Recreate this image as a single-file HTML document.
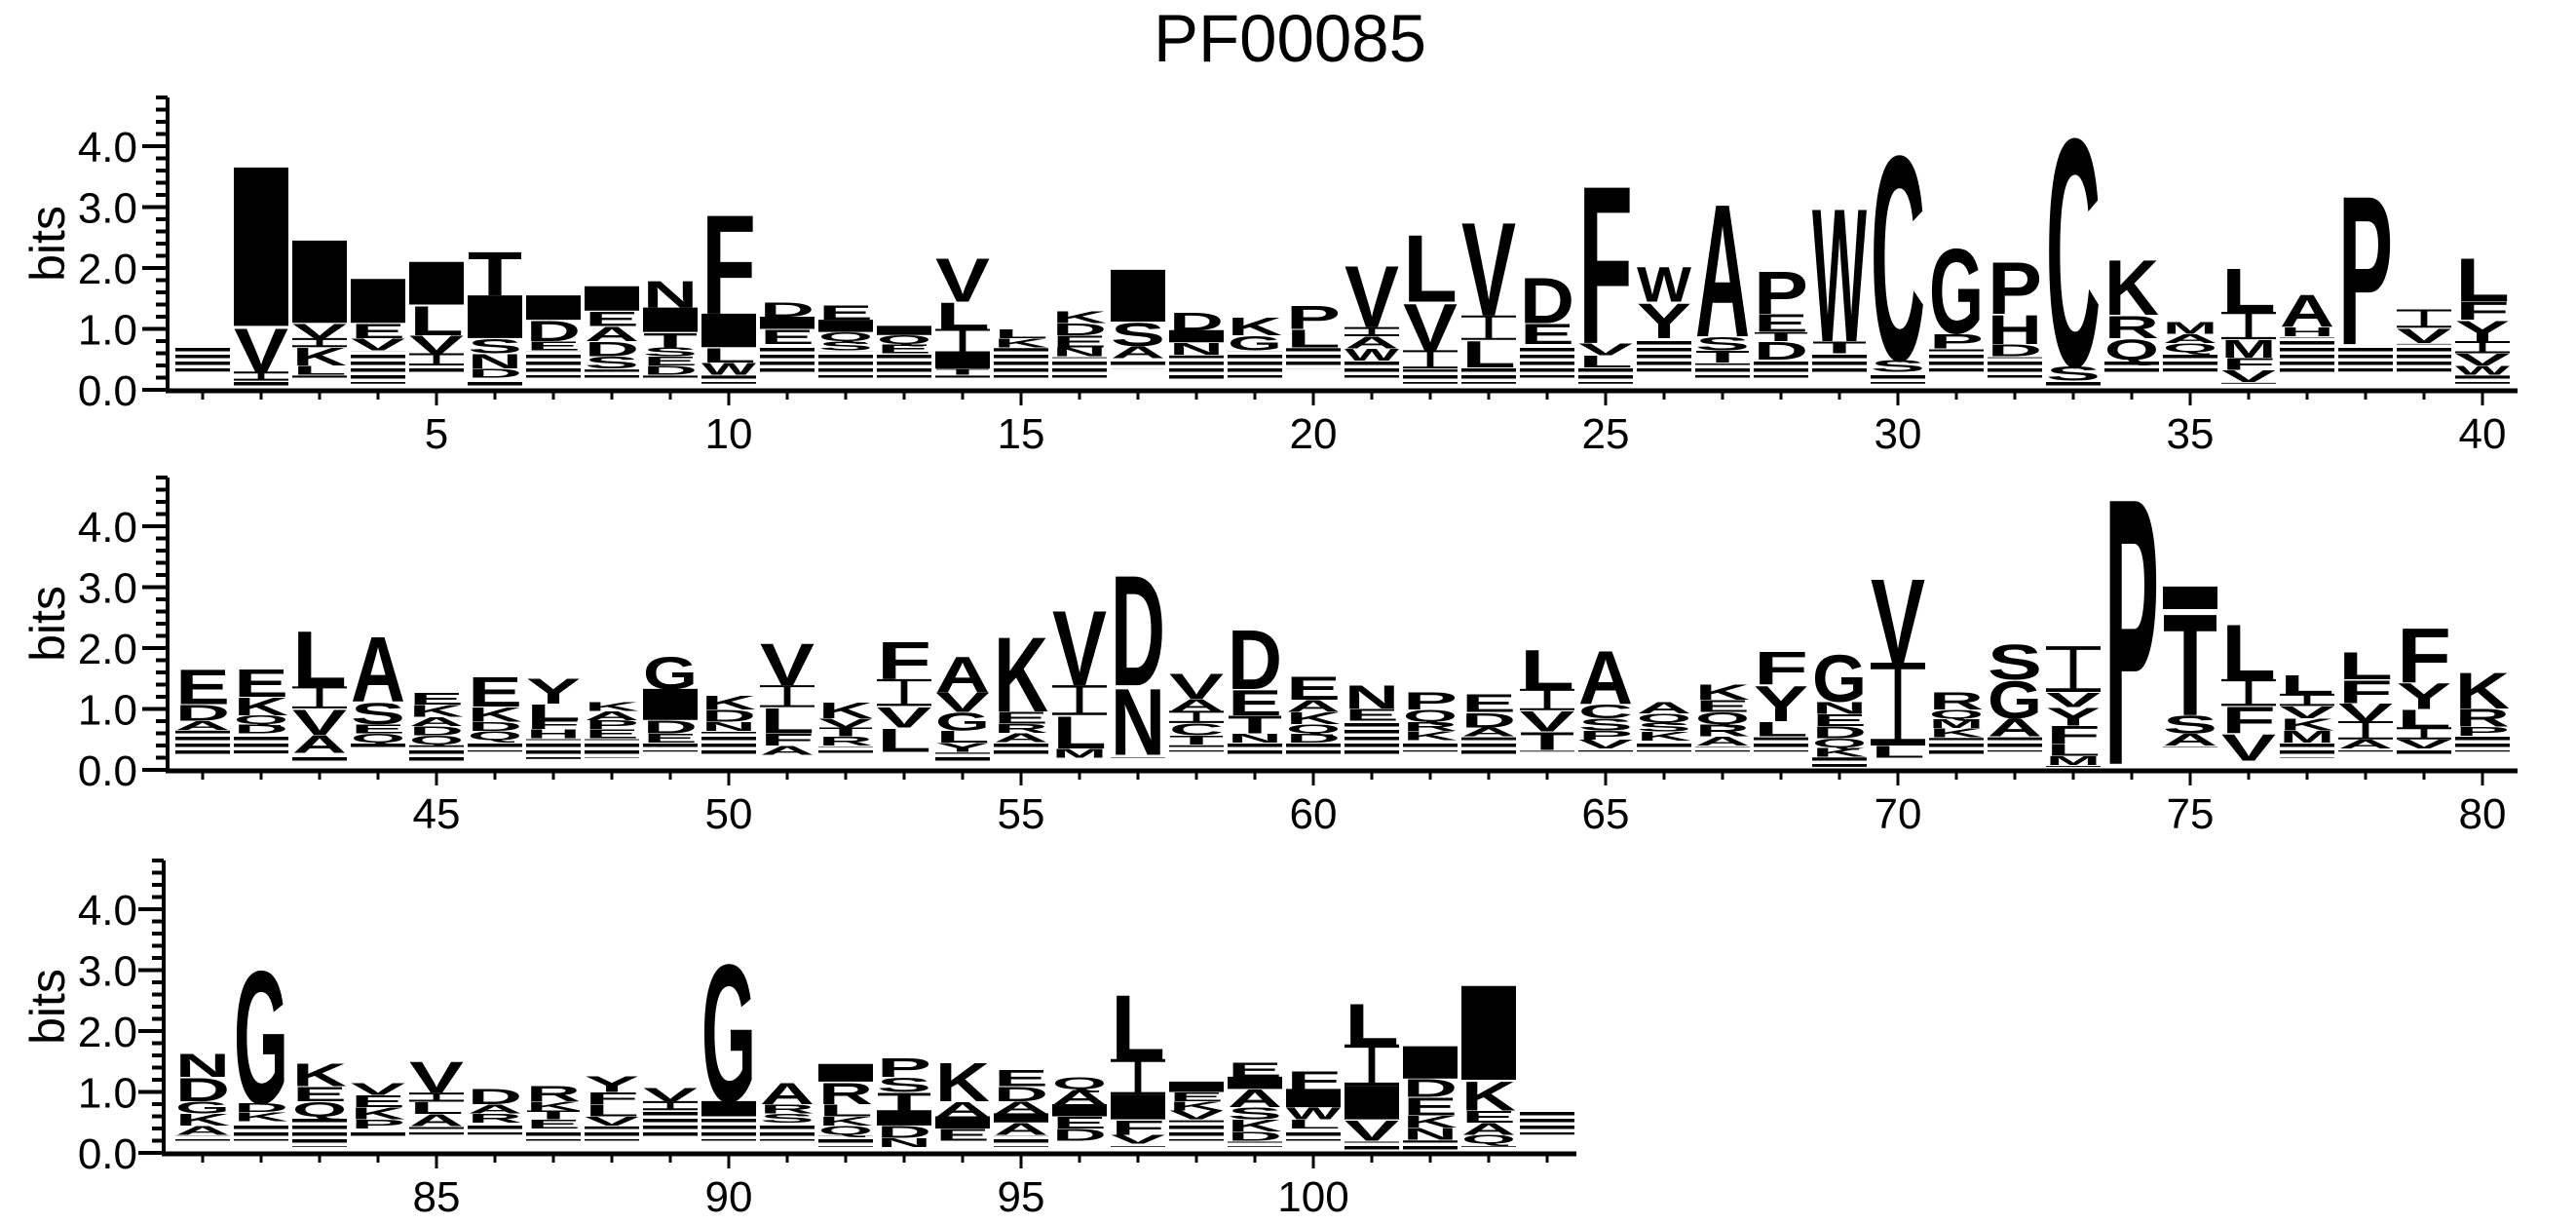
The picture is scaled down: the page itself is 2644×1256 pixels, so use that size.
<!DOCTYPE html>
<html><head><meta charset="utf-8"><style>
html,body{margin:0;padding:0;background:#fff;}
svg{display:block;}
text{font-family:"Liberation Sans",sans-serif;}
</style></head><body>
<svg id="logo" width="2644" height="1256" viewBox="0 0 2644 1256" xmlns="http://www.w3.org/2000/svg">
<defs>
<pattern id="stripes" patternUnits="userSpaceOnUse" width="8" height="7"><rect x="0" y="0" width="8" height="3.5" fill="#000"/></pattern>
</defs>
<text x="1324" y="63" font-size="69" text-anchor="middle">PF00085</text>
<g id="plot"></g>
</svg>
<script>
const tops=[.74,3.65,2.45,1.82,2.1,2.3,1.55,1.7,1.8,2.95,1.45,1.4,1.05,2.2,1.0,1.3,1.97,1.28,1.2,1.4,2.08,2.6,2.82,1.88,3.47,2.05,3.15,1.97,3.08,4.0,2.38,2.14,4.3,2.17,1.12,2.03,1.58,3.3,1.32,2.2,
1.68,1.68,2.32,2.24,1.28,1.55,1.52,1.12,1.88,1.23,2.1,1.12,2.13,1.89,2.24,2.67,3.28,1.6,2.35,1.55,1.41,1.28,1.25,2.0,2.0,1.12,1.41,1.97,1.92,3.2,1.28,2.08,2.03,4.67,3.01,2.43,1.57,1.95,2.37,1.63,
1.65,3.09,1.49,1.15,1.52,1.06,1.11,1.27,1.08,3.2,1.17,1.46,1.57,1.51,1.38,1.25,2.64,1.17,1.5,1.35,2.48,1.75,2.74,.72];
const bases=[.3,.05,.2,.1,.25,.05,.2,.2,.2,.1,.25,.2,.2,.2,.2,.2,.35,.15,.2,.35,.2,.1,.1,.2,.1,.3,.2,.2,.25,.1,.3,.2,.05,.25,.3,.1,.25,.3,.3,.1,
.25,.27,.15,.35,.15,.3,.18,.2,.3,.25,.25,.28,.3,.15,.25,.2,.2,.3,.25,.25,.25,.3,.25,.3,.3,.3,.3,.3,.05,.2,.25,.3,.05,.1,.35,.1,.2,.3,.25,.3,
.2,.2,.1,.25,.3,.3,.2,.2,.25,.2,.2,.1,.15,.2,.1,.2,.1,.2,.1,.2,.05,.05,.1,.3];
const stacks=["","#2.6 V.75 I.15","#1.35 V.25 I.15 K.3 L.15","#.72 E.25 V.2","#.7 L.5 V.3 I.2","T.75 #.7 S.25 N.25 D.15","#.4 D.35 E.15","#.4 E.25 A.25 D.25 S.2","N.45 #.4 T.25 S.15 E.15 D.15","F1.7 #.55 L.25 W.2",
"D.25 #.2 E.25","E.25 #.2 Q.15 S.15","#.15 Q.15 E.15","V.75 L.45 I.4 #.25 T.1","L.15 K.15","K.2 D.2 E.2 N.15","#.85 S.4 A.2","D.3 #.2 N.2","K.3 G.25","P.4 L.3",
"V1.05 I.15 A.2 W.2","L1.15 V.8 I.3","V1.6 I.4 L.45","D.78 E.35","F2.7 V.2 L.2","W.6 Y.6","A2.27 S.23 T.2","P.72 E.3 T.15 D.3","W2.28 T.2","C3.5 S.2",
"G1.45 P.25","P.89 H.5 D.2","C3.9 S.25","K.94 R.38 Q.35","M.2 A.15 Q.15","L.75 I.45 M.3 F.2 V.2","A.55 H.15","P2.55","I.3 V.25","L.75 F.3 Y.35 I.2 V.2 W.15",
"E.6 D.27 A.15","E.48 K.3 Q.15 D.15","L.95 I.36 V.43 A.3","A1.12 S.37 E.15 Q.15","E.21 K.2 A.15 D.15 Q.15","E.51 K.25 D.15 Q.15","Y.43 L.27 F.15 H.15","K.15 A.15 P.15 E.15","G.55 #.51 D.22 E.15","K.24 D.2 N.15",
"V.71 I.36 L.43 F.2 A.15","K.27 V.15 T.15 R.15","F.64 I.44 V.35 L.4","A.61 V.33 G.3 L.2 Y.15","K1.28 E.2 R.15 A.15","V1.28 I.49 L.55 M.15","D1.89 N1.14","V.43 A.2 I.2 C.2 T.15","D1.02 E.43 T.3 N.15","E.4 A.2 K.2 Q.15 D.15",
"N.4 E.2","P.29 Q.2 R.15 K.15","E.3 D.25 A.15","L.67 I.35 V.35 T.3","A.91 C.24 S.2 P.15 V.15","A.19 Q.15 S.15 K.15","K.26 E.2 Q.2 R.2 A.15","F.56 Y.61 L.25","G.8 N.2 E.2 D.2 Q.15 K.15","V1.44 I1.36 L.2",
"R.29 Q.15 M.15 K.15","S.59 G.64 A.3","I.75 V.25 Y.3 F.3 L.2 M.15","P4.57","#.37 T1.74 S.3 A.2","L.94 I.44 F.45 V.45","L.32 I.2 V.2 K.2 M.2","L.46 F.39 V.3 I.3 A.15","F.93 Y.44 L.3 I.2 V.15","K.62 R.3 P.15",
"N.4 D.4 G.2 K.2 A.15","G2.27 D.15 K.15","K.39 E.25 Q.25","V.2 E.2 K.2 P.15","V.53 I.15 L.2 A.2","D.26 A.15 R.15","R.26 K.15 T.15 E.15","Y.27 F.2 L.2 V.15","V.23 I.15","G2.35 #.25",
"A.37 R.15 S.15","#.29 R.37 L.2 K.15 Q.15","P.32 S.25 T.3 #.25 D.2 N.15","K.66 A.25 #.2 E.2","E.28 D.25 A.2 #.15 A.2","Q.2 A.25 #.2 E.2 D.2","L1.1 I.59 #.4 F.25 V.15","#.17 E.15 K.15 V.15","E.25 #.2 A.3 S.2 K.2 D.15","F.3 #.3 W.2 L.15",
"L.7 I.68 #.55 V.35","#.53 D.3 E.3 K.2 N.2","#1.54 K.5 E.2 A.2 Q.15",""];
const yTickLabels=["0.0","1.0","2.0","3.0","4.0"];
const panelFirst=[1,41,81];
const panelLast=[40,80,104];

const NS="http://www.w3.org/2000/svg";
const plot=document.getElementById('plot');
const baselines=[400,790,1183];
const PPB=62.5, X0=208, DX=60, W=56;
function mk(tag,attrs,parent){const e=document.createElementNS(NS,tag);for(const k in attrs)e.setAttribute(k,attrs[k]);(parent||plot).appendChild(e);return e;}
function xPos(i,p){return X0+(i-panelFirst[p])*DX;}
function yPos(v,p){return baselines[p]-v*PPB;}

function drawLetter(g,ch,xc,y1,y2){
  const h=y2-y1; if(h<=0.5)return;
  const x0=xc-W/2;
  if(ch==='#'){const r=mk('rect',{x:x0,y:y1,width:W,height:h,fill:'#000'},g);
    
    return;}
  if(ch==='I'){const bh=Math.max(2,h*0.08),sw=Math.max(3,W*0.12);
    const p=mk('path',{d:`M${x0} ${y1}h${W}v${bh}h${-(W-sw)/2}v${h-2*bh}h${(W-sw)/2}v${bh}h${-W}v${-bh}h${(W-sw)/2}v${-(h-2*bh)}h${-(W-sw)/2}z`,fill:'#000'},g);
    
    return;}
  const t=mk('text',{x:0,y:0,'font-size':100,'font-weight':'bold',textLength:W,lengthAdjust:'spacingAndGlyphs',transform:`translate(${x0},${y2}) scale(1,${h/72.9})`},g);
  t.textContent=ch;
  
  
}

for(let p=0;p<3;p++){
  const g=mk('g',{});
  
  
  const b=baselines[p];
  const axX=p===2?168:172;
  const xEnd=xPos(panelLast[p],p)+(p===2?30:36);
  // y axis
  const ya=mk('line',{x1:axX,y1:b+2,x2:axX,y2:yPos(4.8,p),stroke:'#000','stroke-width':4},g);
  
  
  for(let k=0;k<=24;k++){const v=k*0.2;const major=(k%5===0);
    mk('line',{x1:axX-(major?26:12),y1:yPos(v,p),x2:axX,y2:yPos(v,p),stroke:'#000','stroke-width':4},g);}
  yTickLabels.forEach((s,k)=>{const t=mk('text',{x:141,y:yPos(k,p)+16,'font-size':44,'text-anchor':'end'},g);t.textContent=s;
    
    });
  const yl=mk('text',{x:0,y:0,'font-size':50,'text-anchor':'middle',transform:`translate(66,${b-150}) rotate(-90)`},g);
  yl.textContent='bits';
  
  
  // x axis
  const xa=mk('line',{x1:axX-2,y1:b+1,x2:xEnd,y2:b+1,stroke:'#000','stroke-width':5},g);
  
  
  for(let i=panelFirst[p];i<=panelLast[p];i++){const x=xPos(i,p);const major=(i%5===0);
    mk('line',{x1:x,y1:b,x2:x,y2:b+(major?16:10),stroke:'#000','stroke-width':3},g);
    if(major){const t=mk('text',{x:x,y:b+60,'font-size':44,'text-anchor':'middle'},g);t.textContent=String(i);
      
      }
  }
  // stacks
  for(let i=panelFirst[p];i<=panelLast[p];i++){
    const idx=i-1, xc=xPos(i,p);
    const cg=mk('g',{},g);
    
    
    let cur=tops[idx];
    const parts=stacks[idx].trim()?stacks[idx].trim().split(/\s+/):[];
    parts.forEach(s=>{const ch=s[0];const h=parseFloat(s.slice(1));
      drawLetter(cg,ch,xc,yPos(cur,p),yPos(cur-h,p));cur-=h;});
    if(cur>bases[idx]){
      const r=mk('rect',{x:xc-W/2,y:yPos(cur,p)+1,width:W,height:(cur-bases[idx])*PPB-1,fill:'url(#stripes)'},cg);
      
      
    }
  }
}
</script>
</body></html>
